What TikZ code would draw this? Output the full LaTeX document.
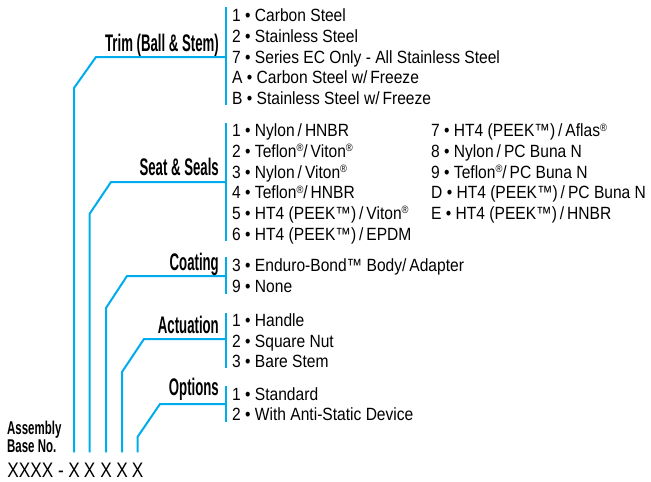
\documentclass[tikz,border=0pt]{standalone}
\usepackage{fontspec}
\usepackage{graphicx}
\setmainfont{Liberation Sans}
\newfontfamily\itemfont[FakeStretch=0.88]{Liberation Sans}
\newfontfamily\lblfont[FakeStretch=0.55]{Liberation Sans Bold}
\newfontfamily\asmfont[FakeStretch=0.62]{Liberation Sans Bold}
\newfontfamily\xfont[FakeStretch=0.82]{Liberation Sans}
\definecolor{lineblue}{RGB}{0,172,236}
\newcommand{\regm}{\raisebox{0.32em}{\scalebox{0.6}{®}}}
\begin{document}
\begin{tikzpicture}[x=1pt,y=-1pt,
  item/.style={font=\itemfont\fontsize{17.7}{20}\selectfont, inner sep=0pt, anchor=base west},
  lbl/.style={font=\lblfont\fontsize{24}{24}\selectfont, inner sep=0pt, anchor=base east},
  asm/.style={font=\asmfont\fontsize{18.5}{18.5}\selectfont, inner sep=0pt, anchor=base west},
  xrow/.style={font=\xfont\fontsize{21}{21}\selectfont, inner sep=0pt, anchor=base},
  conn/.style={draw=lineblue, line width=2pt},
  bar/.style={draw=lineblue, line width=2.2pt}]
\useasboundingbox (0,0) rectangle (651,482);

% base number row
\node[asm] (asm1) at (7,434.5) {Assembly};
\node[asm] (asm2) at (7,452) {Base No.};
\node[xrow, anchor=base east] (basex) at (64,477) {XXXX -};
\node[xrow] (x1) at (74,477) {X};
\node[xrow] (x2) at (89.5,477) {X};
\node[xrow] (x3) at (106,477) {X};
\node[xrow] (x4) at (122,477) {X};
\node[xrow] (x5) at (137.5,477) {X};

% bars
\coordinate (trimT) at (226,7);   \coordinate (trimB) at (226,105);
\coordinate (seatT) at (226,123); \coordinate (seatB) at (226,241);
\coordinate (coatT) at (226,257); \coordinate (coatB) at (226,294);
\coordinate (actT) at (226,313);  \coordinate (actB) at (226,368);
\coordinate (optT) at (226,386);  \coordinate (optB) at (226,422);
\draw[bar] (trimT) -- (trimB);
\draw[bar] (seatT) -- (seatB);
\draw[bar] (coatT) -- (coatB);
\draw[bar] (actT) -- (actB);
\draw[bar] (optT) -- (optB);

% junctions
\coordinate (trimJ) at (226,57);
\coordinate (seatJ) at (226,182);
\coordinate (coatJ) at (226,276);
\coordinate (actJ) at (226,339);
\coordinate (optJ) at (226,404);

% connectors
\draw[conn] ([yshift=10pt]x1.north) -- (x1.north |- 0,88) -- (96,57) -- (trimJ);
\draw[conn] ([yshift=10pt]x2.north) -- (x2.north |- 0,214) -- (111,182) -- (seatJ);
\draw[conn] ([yshift=10pt]x3.north) -- (x3.north |- 0,308) -- (127,276) -- (coatJ);
\draw[conn] ([yshift=10pt]x4.north) -- (x4.north |- 0,372) -- (144,339) -- (actJ);
\draw[conn] ([yshift=10pt]x5.north) -- (x5.north |- 0,437) -- (160,404) -- (optJ);

% labels
\node[lbl] (trimL) at (219,51) {Trim (Ball \& Stem)};
\node[lbl] (seatL) at (219,175) {Seat \& Seals};
\node[lbl] (coatL) at (219,270) {Coating};
\node[lbl] (actL) at (219,333) {Actuation};
\node[lbl] (optL) at (219,395) {Options};

% trim items
\node[item] (t1) at (232,21.7) {1 • Carbon Steel};
\node[item] (t2) at (232,42.3) {2 • Stainless Steel};
\node[item] (t3) at (232,63) {7 • Series EC Only - All Stainless Steel};
\node[item] (t4) at (232,83.6) {A • Carbon Steel w/\,Freeze};
\node[item] (t5) at (232,104.2) {B • Stainless Steel w/\,Freeze};

% seat items
\node[item] (s1) at (232,136.7) {1 • Nylon\,/\,HNBR};
\node[item] (s2) at (232,157.4) {2 • Teflon\regm/\,Viton\regm};
\node[item] (s3) at (232,178.1) {3 • Nylon\,/\,Viton\regm};
\node[item] (s4) at (232,198.8) {4 • Teflon\regm/\,HNBR};
\node[item] (s5) at (232,219.5) {5 • HT4 (PEEK™)\,/\,Viton\regm};
\node[item] (s6) at (232,240.2) {6 • HT4 (PEEK™)\,/\,EPDM};
\node[item] (s7) at (431,136.7) {7 • HT4 (PEEK™)\,/\,Aflas\regm};
\node[item] (s8) at (431,157.4) {8 • Nylon\,/\,PC Buna N};
\node[item] (s9) at (431,178.1) {9 • Teflon\regm/\,PC Buna N};
\node[item] (sD) at (431,198.8) {D • HT4 (PEEK™)\,/\,PC Buna N};
\node[item] (sE) at (431,219.5) {E • HT4 (PEEK™)\,/\,HNBR};

% coating items
\node[item] (c1) at (232,271.5) {3 • Enduro-Bond™ Body/\,Adapter};
\node[item] (c2) at (232,292.2) {9 • None};

% actuation items
\node[item] (a1) at (232,326.8) {1 • Handle};
\node[item] (a2) at (232,347.2) {2 • Square Nut};
\node[item] (a3) at (232,367.6) {3 • Bare Stem};

% options items
\node[item] (o1) at (232,400.2) {1 • Standard};
\node[item] (o2) at (232,420.8) {2 • With Anti-Static Device};
\end{tikzpicture}
\end{document}
